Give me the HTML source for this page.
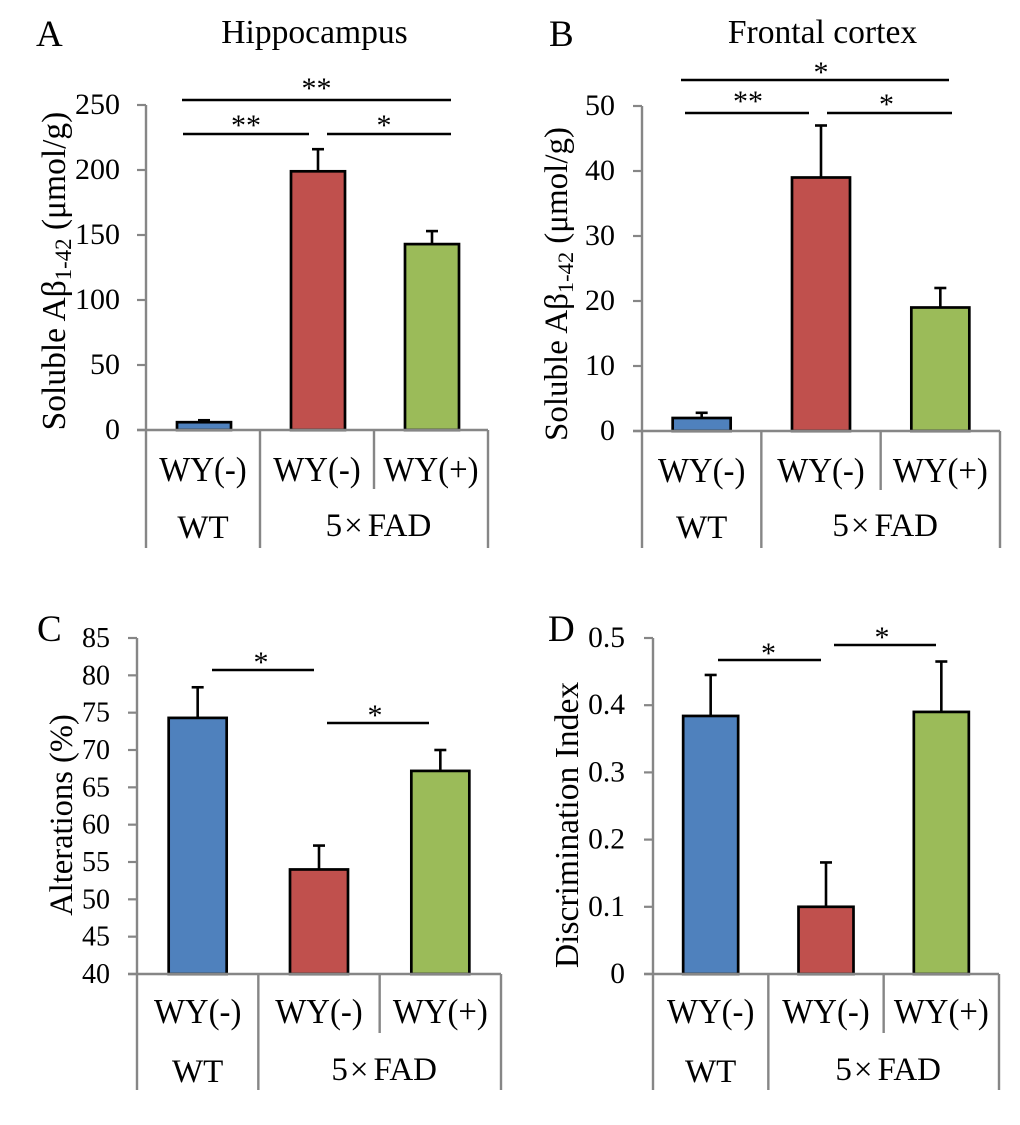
<!DOCTYPE html>
<html>
<head>
<meta charset="utf-8">
<style>
html,body{margin:0;padding:0;background:#fff;width:1020px;height:1125px;overflow:hidden}
svg{display:block;filter:blur(0.3px)}
text{font-family:"Liberation Serif","DejaVu Serif",serif;fill:#000}
</style>
</head>
<body>
<svg id="figure" width="1020" height="1125" viewBox="0 0 1020 1125" xmlns="http://www.w3.org/2000/svg"></svg>
<script>
const categories = ["WY(-)", "WY(-)", "WY(+)"];
const groupLabelWT = "WT";
const barColors = ["#4f81bd", "#c0504d", "#9bbb59"];

const valuesA = [6, 199, 143];
const errorTopsA = [7.5, 216, 153];
const ticksA = [0, 50, 100, 150, 200, 250];

const valuesB = [2, 39, 19];
const errorTopsB = [2.8, 47, 22];
const ticksB = [0, 10, 20, 30, 40, 50];

const valuesC = [74.3, 54, 67.2];
const errorTopsC = [78.4, 57.2, 70];
const ticksC = [40, 45, 50, 55, 60, 65, 70, 75, 80, 85];

const valuesD = [0.384, 0.1, 0.39];
const errorTopsD = [0.445, 0.166, 0.465];
const ticksD = ["0", "0.1", "0.2", "0.3", "0.4", "0.5"];

const svg = document.getElementById("figure");
const NS = "http://www.w3.org/2000/svg";

function mk(tag, attrs, parent) {
  const el = document.createElementNS(NS, tag);
  for (const k in attrs) el.setAttribute(k, attrs[k]);
  (parent || svg).appendChild(el);
  return el;
}
function line(g, x1, y1, x2, y2, color, w, name) {
  const el = mk("line", {x1: x1, y1: y1, x2: x2, y2: y2, stroke: color, "stroke-width": w}, g);
  
  
  return el;
}
function label(g, x, y, str, size, anchor, name, stretch) {
  const attrs = {"font-size": size, "text-anchor": anchor || "middle"};
  if (stretch) {
    attrs.transform = "translate(" + x + "," + y + ") scale(1," + stretch + ")";
  } else {
    attrs.x = x;
    attrs.y = y;
  }
  const el = mk("text", attrs, g);
  el.textContent = str;
  
  
  return el;
}

function drawPanel(p) {
  const g = mk("g", {});
  
  
  const yMin = Number(p.ticks[0]);
  const yMax = Number(p.ticks[p.ticks.length - 1]);
  const yScale = v => p.y0 - (v - yMin) / (yMax - yMin) * (p.y0 - p.yTop);
  const slot = (p.xEnd - p.x0) / 3;
  const xCenter = i => p.x0 + slot * (i + 0.5) + p.barShift;

  // bars and error bars
  p.values.forEach((v, i) => {
    const cx = xCenter(i);
    const top = yScale(v);
    const errTop = yScale(p.errors[i]);
    line(g, cx, top, cx, errTop, "#000", 2.6, "error-bar-" + i);
    line(g, cx - p.cap, errTop, cx + p.cap, errTop, "#000", 2.6, "error-cap-" + i);
    const bar = mk("rect", {x: cx - p.barW / 2, y: top, width: p.barW, height: p.y0 - top,
      fill: barColors[i], stroke: "#000", "stroke-width": 2.7}, g);
    
    
  });

  // axes
  const grey = "#868686";
  line(g, p.x0, p.yTop, p.x0, p.yBottom, grey, 2.4, "y-axis");
  line(g, p.x0 - 9, p.y0, p.xEnd, p.y0, grey, 2.4, "x-axis");
  p.ticks.forEach(t => {
    const y = yScale(Number(t));
    line(g, p.x0 - 9, y, p.x0, y, grey, 2.2, "y-tick");
    label(g, p.x0 - p.tickGap, y + 9, String(t), p.tickSize, "end", "y-tick-label");
  });
  line(g, p.x0 + slot, p.y0, p.x0 + slot, p.yBottom, grey, 2.4, "group-divider");
  line(g, p.x0 + 2 * slot, p.y0, p.x0 + 2 * slot, p.yInner, grey, 2.4, "category-divider");
  line(g, p.xEnd, p.y0, p.xEnd, p.yBottom, grey, 2.4, "x-axis-end");

  // category labels
  categories.forEach((c, i) => {
    label(g, p.x0 + slot * (i + 0.5), p.yInner - p.catOffset, c, 32.8, "middle", "category-label", 1.08);
  });
  label(g, p.x0 + slot / 2, p.yBottom - p.groupOffset, groupLabelWT, 33, "middle", "group-label-wt");
  const fad = mk("text", {x: p.x0 + 2 * slot + 4.5, y: p.yBottom - p.groupOffset - 2, "font-size": 33, "text-anchor": "middle"}, g);
  
  
  mk("tspan", {}, fad).textContent = "5";
  mk("tspan", {dx: 2}, fad).textContent = "×";
  mk("tspan", {dx: 5}, fad).textContent = "FAD";

  // y axis title
  const ty = mk("text", {transform: "translate(" + p.titleX + "," + p.titleY + ") rotate(-90)",
    "font-size": p.titleSize, "text-anchor": "middle"}, g);
  
  
  p.yTitle.forEach(part => {
    const s = mk("tspan", part.sub ? {"font-size": p.titleSize * 0.68, dy: 6} : {dy: part.after ? -6 : 0}, ty);
    s.textContent = part.t;
  });

  // panel letter and heading
  label(g, p.letterX, p.letterY, p.id, 37, "start", "panel-letter");
  if (p.heading) label(g, p.headingX, 43, p.heading, 33.6, "middle", "panel-heading");

  // significance lines
  p.sig.forEach(s => {
    line(g, s[0], s[2], s[1], s[2], "#000", 2.5, "significance-line");
    label(g, (s[0] + s[1]) / 2 + s[4], s[2] - 2 + s[5], s[3], 30, "middle", "significance-stars");
  });
}

const abTitle = [{t: "Soluble Aβ"}, {t: "1-42", sub: true}, {t: " (μmol/g)", after: true}];

drawPanel({id: "A", values: valuesA, errors: errorTopsA, ticks: ticksA,
  x0: 146, xEnd: 488, y0: 430, yTop: 105, yBottom: 548, yInner: 489, barW: 54, cap: 6, barShift: 1,
  tickGap: 26, tickSize: 30, catOffset: 8, groupOffset: 10, titleX: 65, titleY: 271, titleSize: 33.5, yTitle: abTitle,
  letterX: 36, letterY: 46, heading: "Hippocampus", headingX: 314.5,
  sig: [[182, 451, 100, "**", 0, 0], [183, 309, 134, "**", 0, 3], [327, 451, 134, "*", -5, 3]]});

drawPanel({id: "B", values: valuesB, errors: errorTopsB, ticks: ticksB,
  x0: 642, xEnd: 1000, y0: 431, yTop: 106, yBottom: 548, yInner: 490, barW: 58, cap: 6, barShift: 0,
  tickGap: 27, tickSize: 30, catOffset: 8, groupOffset: 10, titleX: 567, titleY: 284, titleSize: 33, yTitle: abTitle,
  letterX: 549, letterY: 46, heading: "Frontal cortex", headingX: 822.5,
  sig: [[681, 949, 80, "*", 6, 4], [685, 809, 113, "**", 1, 0], [827, 952, 113, "*", -3, 3]]});

drawPanel({id: "C", values: valuesC, errors: errorTopsC, ticks: ticksC,
  x0: 137, xEnd: 501, y0: 974, yTop: 638, yBottom: 1090, yInner: 1033, barW: 58, cap: 6, barShift: 0,
  tickGap: 27, tickSize: 28, catOffset: 10, groupOffset: 8, titleX: 72, titleY: 815, titleSize: 32.6, yTitle: [{t: "Alterations (%)"}],
  letterX: 37, letterY: 641,
  sig: [[212, 314, 670, "*", -2, 4], [327, 429, 723, "*", -3, 4]]});

drawPanel({id: "D", values: valuesD, errors: errorTopsD, ticks: ticksD,
  x0: 653, xEnd: 999, y0: 974, yTop: 638, yBottom: 1090, yInner: 1033, barW: 55, cap: 6, barShift: 0,
  tickGap: 28, tickSize: 29.5, catOffset: 10, groupOffset: 8, titleX: 578, titleY: 825, titleSize: 33.6, yTitle: [{t: "Discrimination Index"}],
  letterX: 548, letterY: 641,
  sig: [[718, 821, 660, "*", -1, 5], [834, 936, 645, "*", -3, 4]]});
</script>
</body>
</html>
